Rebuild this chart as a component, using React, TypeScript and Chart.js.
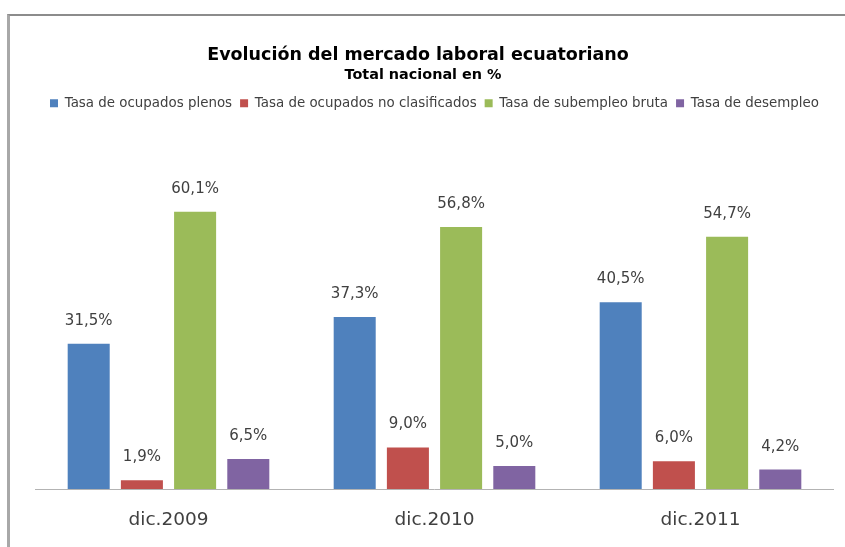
import React, { useEffect, useRef } from "react";
import { Chart, registerables } from "chart.js";

Chart.register(...registerables);

const categories = ["dic.2009", "dic.2010", "dic.2011"];
const seriesNames = [
  "Tasa de ocupados plenos",
  "Tasa de ocupados no clasificados",
  "Tasa de subempleo bruta",
  "Tasa de desempleo",
];
const ocupadosPlenos = [31.5, 37.3, 40.5];
const ocupadosNoClasificados = [1.9, 9.0, 6.0];
const subempleoBruta = [60.1, 56.8, 54.7];
const desempleo = [6.5, 5.0, 4.2];
const colors = ["#4F81BD", "#C0504D", "#9BBB59", "#8064A2"];
const titleText = "Evolución del mercado laboral ecuatoriano";
const subtitleText = "Total nacional en %";

const FONT = "'DejaVu Sans', sans-serif";

const dataLabels = {
  id: "dataLabels",
  afterDatasetsDraw(chart: any) {
    const ctx = chart.ctx;
    ctx.save();
    ctx.font = `15px ${FONT}`;
    ctx.fillStyle = "#404040";
    ctx.textAlign = "center";
    ctx.textBaseline = "middle";
    chart.data.datasets.forEach((ds: any, i: number) => {
      const meta = chart.getDatasetMeta(i);
      meta.data.forEach((bar: any, j: number) => {
        const v = ds.data[j] as number;
        ctx.fillText(v.toFixed(1).replace(".", ",") + "%", bar.x, bar.y - 23);
      });
    });
    ctx.restore();
  },
};

const titles = {
  id: "titles",
  afterDraw(chart: any) {
    const ctx = chart.ctx;
    ctx.save();
    ctx.fillStyle = "#000";
    ctx.textAlign = "center";
    ctx.textBaseline = "middle";
    ctx.font = `bold 17.5px ${FONT}`;
    ctx.fillText(titleText, 418, 55);
    ctx.font = `bold 14.4px ${FONT}`;
    ctx.fillText(subtitleText, 423, 75);
    ctx.restore();
  },
};

export default function App() {
  const ref = useRef<HTMLCanvasElement | null>(null);
  useEffect(() => {
    if (!ref.current) return;
    const all = [ocupadosPlenos, ocupadosNoClasificados, subempleoBruta, desempleo];
    const chart = new Chart(ref.current, {
      type: "bar",
      data: {
        labels: categories,
        datasets: all.map((d, i) => ({
          label: seriesNames[i],
          data: d,
          backgroundColor: colors[i],
          barPercentage: 0.79,
          categoryPercentage: 0.8,
        })),
      },
      options: {
        animation: false,
        responsive: false,
        maintainAspectRatio: false,
        layout: { padding: { left: 35.5, right: 11.5, top: 88.5, bottom: -4.2 } },
        plugins: {
          title: { display: false },
          legend: {
            position: "top",
            labels: {
              boxWidth: 8,
              boxHeight: 8,
              color: "#404040",
              padding: 8,
              font: { family: FONT, size: 13.4 },
            },
          },
          tooltip: { enabled: false },
        },
        scales: {
          x: {
            grid: { display: false, drawTicks: false },
            border: { display: true, color: "#b3b3b3", width: 1 },
            ticks: {
              color: "#404040",
              padding: 20,
              font: { family: FONT, size: 18.5, lineHeight: 1.2 },
            },
          },
          y: {
            display: false,
            min: 0,
            max: 80,
          },
        },
      },
      plugins: [dataLabels, titles],
    });
    return () => chart.destroy();
  }, []);
  return (
    <div style={{ position: "fixed", left: 0, top: 0, width: 845, height: 547, overflow: "hidden", background: "#fff" }}>
      <div
        style={{
          position: "absolute",
          left: 7,
          top: 14,
          width: 900,
          height: 600,
          borderTop: "2px solid #8c8c8c",
          borderLeft: "3px solid #a8a8a8",
        }}
      />
      <canvas ref={ref} width={845} height={547} style={{ position: "absolute", left: 0, top: 0 }} />
    </div>
  );
}
